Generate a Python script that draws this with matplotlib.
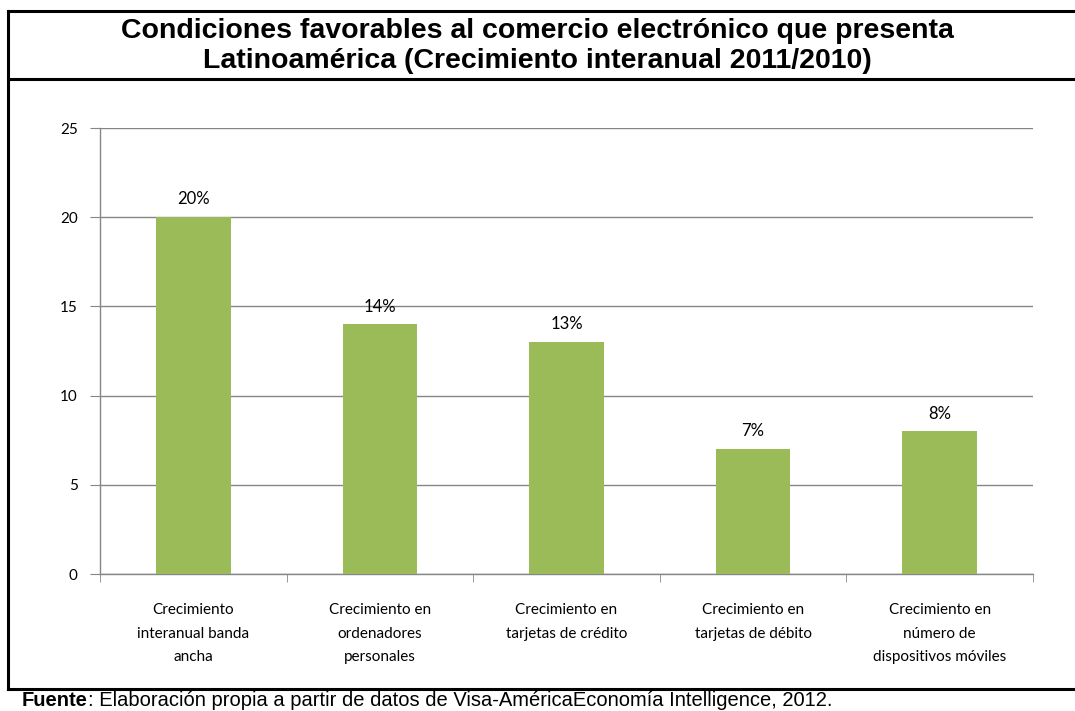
import matplotlib
matplotlib.use("Agg")
import matplotlib.pyplot as plt
from matplotlib.lines import Line2D

categories = ["Crecimiento\ninteranual banda\nancha",
              "Crecimiento en\nordenadores\npersonales",
              "Crecimiento en\ntarjetas de crédito",
              "Crecimiento en\ntarjetas de débito",
              "Crecimiento en\nnúmero de\ndispositivos móviles"]
values = [20, 14, 13, 7, 8]
labels = ["20%", "14%", "13%", "7%", "8%"]
yticks = [0, 5, 10, 15, 20, 25]

W, H = 1075, 711
fig = plt.figure(figsize=(W/100, H/100), dpi=100)
fig.patch.set_facecolor("white")

ax = fig.add_axes([100/W, 1-574/H, (1033-100)/W, (574-128)/H])
x = list(range(len(values)))
ax.bar(x, values, width=0.4, color="#9BBB59", zorder=3)
ax.set_xlim(-0.5, len(values)-0.5)
ax.set_ylim(0, 25)
ax.set_yticks(yticks)
ax.set_yticklabels([str(t) for t in yticks], fontsize=11, family="Lato")
ax.yaxis.grid(True, color="#868686", linewidth=1, zorder=0)
ax.set_xticks(x)
ax.set_xticklabels(categories, fontsize=11, family="Lato", linespacing=1.85)
ax.tick_params(axis="x", length=0, pad=21)
ax.set_xticks([i + 0.5 for i in range(-1, len(values))], minor=True)
ax.tick_params(axis="x", which="minor", length=6, color="#868686", direction="out")
ax.tick_params(axis="y", length=7, color="#868686", direction="out", pad=9)
for s in ["top", "right"]:
    ax.spines[s].set_visible(False)
for s in ["left", "bottom"]:
    ax.spines[s].set_color("#868686")
    ax.spines[s].set_linewidth(1)
for xi, v, lab in zip(x, values, labels):
    ax.annotate(lab, (xi, v), xytext=(0, 7), textcoords="offset points",
                ha="center", va="bottom", fontsize=12, family="Lato")

# Title
fig.text(0.5, 1-46/H, "Condiciones favorables al comercio electrónico que presenta\nLatinoamérica (Crecimiento interanual 2011/2010)",
         ha="center", va="center", fontsize=20.5, fontweight="bold",
         family="Liberation Sans", linespacing=1.15)

# Borders
lw = 2.2
fig.add_artist(Line2D([8/W, 1], [1-11/H, 1-11/H], color="black", lw=lw, transform=fig.transFigure))
fig.add_artist(Line2D([8/W, 1], [1-79/H, 1-79/H], color="black", lw=lw, transform=fig.transFigure))
fig.add_artist(Line2D([8/W, 1], [1-689/H, 1-689/H], color="black", lw=lw, transform=fig.transFigure))
fig.add_artist(Line2D([8/W, 8/W], [1-11/H, 1-689/H], color="black", lw=lw, transform=fig.transFigure))

# Footer
base_y = 1-706.5/H
t1 = fig.text(22/W, base_y, "Fuente", ha="left", va="baseline", fontsize=14.5,
              fontweight="bold", family="Liberation Sans")
fig.canvas.draw()
bb = t1.get_window_extent()
fig.text(bb.x1/W, base_y, ": Elaboración propia a partir de datos de Visa-AméricaEconomía Intelligence, 2012.",
         ha="left", va="baseline", fontsize=14.5, family="Liberation Sans")

fig.savefig("out.png", dpi=100)
